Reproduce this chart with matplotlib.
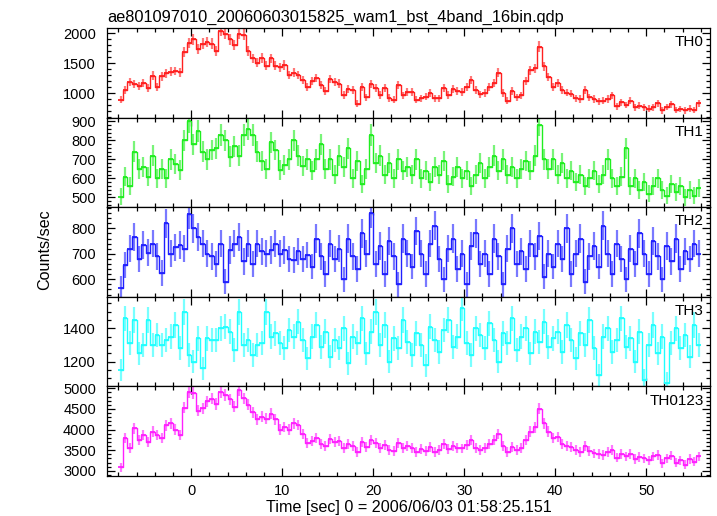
import numpy as np
import matplotlib
matplotlib.use('Agg')
import matplotlib.pyplot as plt
from matplotlib.ticker import MultipleLocator

plt.rcParams['font.family'] = ['Liberation Sans', 'DejaVu Sans']

# Light curves, 0.5 s bins starting at t = -7.75 s
t_start = -7.75
bin_width = 0.5

th0 = [890, 1050, 1190, 1150, 1120, 1170, 1080, 1290, 1110, 1280, 1330, 1360, 1370, 1350, 1690, 1840,
       1900, 1740, 1830, 1860, 1830, 1710, 2040, 1990, 1900, 1800, 1990, 1980, 1700, 1580, 1510, 1590,
       1460, 1580, 1460, 1430, 1470, 1300, 1340, 1300, 1220, 1110, 1200, 1250, 1130, 1030, 1240, 1190,
       1160, 970, 1070, 1050, 820, 1100, 930, 1150, 1080, 970, 1090, 920, 890, 1130, 960, 1020,
       1020, 890, 910, 940, 1000, 910, 910, 1090, 970, 1070, 1030, 1020, 1100, 1220, 1050, 980,
       1000, 1110, 1170, 1340, 1000, 870, 1040, 930, 960, 1200, 1380, 1420, 1780, 1450, 1270, 1110,
       1170, 1050, 1010, 990, 910, 900, 1050, 930, 900, 860, 870, 900, 960, 780, 850, 800,
       870, 760, 790, 760, 740, 760, 830, 710, 770, 810, 720, 730, 710, 740, 720, 830]

th1 = [505, 610, 560, 740, 650, 660, 610, 720, 600, 650, 600, 700, 675, 645, 800, 900,
       780, 850, 740, 700, 750, 760, 830, 800, 715, 770, 720, 830, 860, 830, 740, 690,
       650, 790, 750, 645, 670, 700, 800, 720, 665, 700, 640, 700, 780, 650, 700, 620,
       720, 660, 760, 600, 690, 570, 650, 830, 680, 720, 620, 680, 600, 700, 640, 660,
       620, 700, 600, 640, 580, 660, 620, 690, 570, 610, 660, 600, 640, 560, 620, 680,
       600, 660, 720, 640, 700, 620, 660, 600, 650, 690, 640, 720, 880, 700, 650, 700,
       620, 680, 600, 640, 580, 620, 560, 600, 640, 570, 620, 700, 600, 560, 610, 760,
       560, 600, 540, 580, 520, 560, 600, 540, 510, 570, 530, 560, 500, 540, 510, 550]

th2 = [565, 655, 720, 765, 680, 735, 705, 740, 690, 625, 820, 700, 725, 735, 720, 855,
       800, 765, 740, 700, 690, 660, 740, 590, 715, 740, 765, 670, 740, 660, 740, 710,
       700, 715, 740, 700, 715, 680, 676, 710, 680, 695, 650, 760, 690, 620, 740, 680,
       720, 600, 760, 690, 640, 780, 700, 860, 660, 730, 620, 750, 690, 580, 760, 700,
       650, 790, 700, 620, 740, 810, 680, 600, 720, 760, 640, 700, 580, 730, 780, 660,
       700, 620, 760, 690, 580, 720, 800, 660, 710, 640, 740, 690, 770, 610, 700, 650,
       740, 680, 800, 620, 700, 760, 590, 690, 730, 650, 810, 700, 620, 740, 680, 600,
       720, 660, 780, 700, 620, 750, 690, 600, 730, 670, 760, 640, 710, 680, 740, 700]

th3 = [1150, 1460, 1310, 1450, 1250, 1300, 1450, 1300, 1360, 1300, 1330, 1350, 1420, 1280, 1500, 1240,
       1200, 1340, 1160, 1340, 1330, 1330, 1400, 1410, 1380, 1270, 1500, 1300, 1330, 1240, 1300, 1310,
       1500, 1350, 1370, 1310, 1280, 1390, 1350, 1440, 1330, 1220, 1350, 1420, 1290, 1380, 1230, 1330,
       1280, 1400, 1190, 1350, 1310, 1460, 1250, 1380, 1500, 1300, 1420, 1200, 1340, 1280, 1450, 1320,
       1240, 1370, 1300, 1180, 1410, 1330, 1260, 1390, 1450, 1290, 1350, 1520, 1310, 1240, 1400, 1360,
       1280, 1430, 1330, 1200, 1370, 1310, 1460, 1270, 1350, 1400, 1250, 1380, 1320, 1440, 1290, 1340,
       1380, 1260, 1420, 1330, 1220, 1370, 1300, 1450, 1280, 1120, 1350, 1400, 1260, 1330, 1460, 1290,
       1340, 1200, 1380, 1090, 1300, 1420, 1250, 1350, 1070, 1310, 1400, 1280, 1360, 1230, 1420, 1300]

th0123 = [3080, 3800, 3550, 4030, 3740, 3860, 3700, 3950, 3860, 3790, 4100, 4150, 4000, 3870, 4530, 4900,
          4880, 4450, 4520, 4680, 4750, 4620, 4900, 4840, 4730, 4550, 4950, 4760, 4600, 4420, 4250, 4310,
          4260, 4380, 4250, 4000, 4060, 4000, 4150, 4110, 3900, 3680, 3720, 3800, 3650, 3600, 3780, 3700,
          3720, 3560, 3650, 3600, 3450, 3700, 3580, 3750, 3680, 3550, 3620, 3500, 3480, 3680, 3560, 3600,
          3560, 3450, 3520, 3480, 3580, 3450, 3500, 3650, 3520, 3600, 3560, 3540, 3620, 3750, 3560, 3500,
          3550, 3650, 3750, 3900, 3600, 3450, 3580, 3500, 3550, 3750, 3950, 4050, 4500, 4150, 3950, 3800,
          3820, 3650, 3600, 3580, 3500, 3450, 3600, 3480, 3420, 3400, 3380, 3450, 3500, 3320, 3400, 3350,
          3400, 3280, 3330, 3300, 3250, 3350, 3380, 3180, 3300, 3370, 3200, 3250, 3150, 3280, 3220, 3350]

names = ['TH0', 'TH1', 'TH2', 'TH3', 'TH0123']
series = [th0, th1, th2, th3, th0123]
colors = ['#ff2020', '#20ee20', '#2020ff', '#20ffff', '#ff20ff']
ylims = [(590, 2090), (449, 920), (531, 883), (1052, 1589), (2873, 5046)]
ymajor = [500, 100, 100, 200, 500]
yminor = [100, 20, 20, 50, 100]

W, H = 717, 516
fig = plt.figure(figsize=(W / 100, H / 100), dpi=100)

left, right = 107, 710
top, bottom = 28, 476
ph = (bottom - top) / 5

axes = []
for i in range(5):
    y0 = top + i * ph
    ax = fig.add_axes([left / W, 1 - (y0 + ph) / H, (right - left) / W, ph / H])
    axes.append(ax)

for i, ax in enumerate(axes):
    y = np.array(series[i], dtype=float)
    t = t_start + bin_width * np.arange(len(y))
    err = np.sqrt(y / 0.25)  # poisson error for the original 0.25 s bins
    ax.errorbar(t, y, yerr=err, fmt='none', ecolor=colors[i], elinewidth=1.6, alpha=0.6, capsize=0)
    ax.step(t, y, where='mid', color=colors[i], lw=1.0)
    ax.errorbar(t, y, xerr=bin_width / 2, fmt='none', ecolor=colors[i], elinewidth=1.3, capsize=0)

    ax.set_xlim(-9.25, 57.0)
    ax.set_ylim(*ylims[i])
    ax.xaxis.set_major_locator(MultipleLocator(10))
    ax.xaxis.set_minor_locator(MultipleLocator(2))
    ax.yaxis.set_major_locator(MultipleLocator(ymajor[i]))
    ax.yaxis.set_minor_locator(MultipleLocator(yminor[i]))
    ax.tick_params(which='both', direction='in', top=True, right=True, labelsize=10.5, width=0.9)
    ax.tick_params(which='major', length=6)
    ax.tick_params(which='minor', length=3)
    ax.tick_params(axis='y', pad=8)
    ax.tick_params(axis='x', pad=6)
    for s in ax.spines.values():
        s.set_linewidth(0.9)
    ax.text(0.99, 0.92, names[i], transform=ax.transAxes, ha='right', va='top', fontsize=11)
    if i < 4:
        ax.tick_params(labelbottom=False)

axes[0].text(0.0, 1.03, 'ae801097010_20060603015825_wam1_bst_4band_16bin.qdp',
             transform=axes[0].transAxes, ha='left', va='bottom', fontsize=11.8)
axes[4].set_xlabel('Time [sec] 0 = 2006/06/03 01:58:25.151', fontsize=11.6, labelpad=1)
fig.text(45 / W, 1 - 250 / H, 'Counts/sec', rotation=90, ha='center', va='center', fontsize=11.6)

fig.savefig('out.png', dpi=100)
